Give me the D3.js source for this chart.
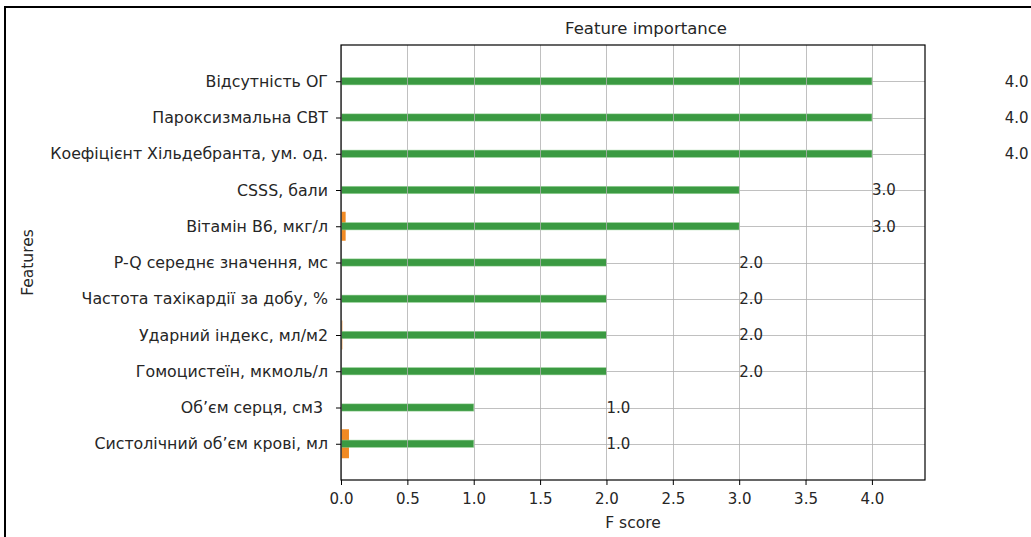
<!DOCTYPE html>
<html>
<head>
<meta charset="utf-8">
<script src="https://cdn.jsdelivr.net/npm/d3@7"></script>
<style>
  html, body { margin: 0; padding: 0; background: #fff; }
  svg { display: block; font-family: "DejaVu Sans", sans-serif; }
  text { white-space: pre; }
</style>
</head>
<body>
<svg id="chart" width="1031" height="537"></svg>
<script>
// Feature names, top to bottom
const features = [
  "Відсутність ОГ",
  "Пароксизмальна СВТ",
  "Коефіцієнт Хільдебранта, ум. од.",
  "CSSS, бали",
  "Вітамін B6, мкг/л",
  "P-Q середнє значення, мс",
  "Частота тахікардії за добу, %",
  "Ударний індекс, мл/м2",
  "Гомоцистеїн, мкмоль/л",
  "Об’єм серця, см3 ",
  "Систолічний об’єм крові, мл"
];
// F score per feature
const fScores = [4, 4, 4, 3, 3, 2, 2, 2, 2, 1, 1];
// Small secondary bars (drawn behind the main ones)
const secondary = [0, 0, 0, 0, 0.035, 0, 0, 0.01, 0, 0, 0.06];
const xTicks = [0, 0.5, 1, 1.5, 2, 2.5, 3, 3.5, 4];

const svg = d3.select("#chart");
const plot = { left: 341, right: 925, top: 45, bottom: 480 };
const textColor = "#262626";

const x = d3.scaleLinear().domain([0, 4.4]).range([plot.left, plot.right]);
// position index 0 = top feature; axis spans one slot of padding on each side
const y = d3.scaleLinear().domain([-1, features.length]).range([plot.top, plot.bottom]);
const unit = y(1) - y(0);

// outer frame
svg.append("rect")
  .attr("x", 5).attr("y", 7).attr("width", 1040).attr("height", 545)
  .attr("fill", "none").attr("stroke", "#000").attr("stroke-width", 2);

// clip for marks inside the axes
svg.append("defs").append("clipPath").attr("id", "plotClip")
  .append("rect")
  .attr("x", plot.left).attr("y", plot.top)
  .attr("width", plot.right - plot.left).attr("height", plot.bottom - plot.top);

const marks = svg.append("g").attr("clip-path", "url(#plotClip)");

// secondary bars
marks.selectAll("rect.sec")
  .data(features.map((f, i) => ({ f, v: secondary[i], i })).filter(d => d.v > 0))
  .join("rect")
  .attr("class", "sec")
  .attr("x", x(0))
  .attr("y", d => y(d.i) - unit * 0.4)
  .attr("width", d => x(d.v) - x(0))
  .attr("height", unit * 0.8)
  .attr("fill", "#f08a24");

// main bars
marks.selectAll("rect.bar")
  .data(features.map((f, i) => ({ f, v: fScores[i], i })))
  .join("rect")
  .attr("class", "bar")
  .attr("x", x(0))
  .attr("y", d => y(d.i) - unit * 0.1)
  .attr("width", d => x(d.v) - x(0))
  .attr("height", unit * 0.2)
  .attr("fill", "#3b9a42")
  .attr("stroke", "#8fd08f")
  .attr("stroke-width", 0.8)
  .attr("stroke-opacity", 0.6);

// grid lines (faint over the bars)
const grid = svg.append("g").attr("stroke", "#b0b0b0").attr("stroke-width", 1);
grid.selectAll("line.v").data(xTicks).join("line")
  .attr("x1", d => Math.round(x(d)) + 0.5).attr("x2", d => Math.round(x(d)) + 0.5)
  .attr("y1", plot.top).attr("y2", plot.bottom)
  .attr("stroke-opacity", 0.8);
grid.selectAll("line.h").data(features.map((f, i) => i)).join("line")
  .attr("y1", d => Math.round(y(d)) + 0.5).attr("y2", d => Math.round(y(d)) + 0.5)
  .attr("x1", d => x(fScores[d])).attr("x2", plot.right)
  .attr("stroke-opacity", 0.8);

// value labels at score + 1
svg.append("g").selectAll("text")
  .data(features.map((f, i) => ({ v: fScores[i], i })))
  .join("text")
  .attr("x", d => x(d.v + 1))
  .attr("y", d => y(d.i))
  .attr("dy", "0.35em")
  .attr("font-size", 15)
  .attr("fill", textColor)
  .text(d => d.v.toFixed(1));

// axes
const xAxis = d3.axisBottom(x).tickValues(xTicks).tickFormat(d3.format(".1f")).tickSize(5).tickPadding(8);
const gx = svg.append("g").attr("transform", `translate(0,${plot.bottom})`).call(xAxis);
gx.select(".domain").remove();
gx.selectAll("text").attr("font-size", 15).attr("font-family", "DejaVu Sans").attr("fill", textColor);

const yAxis = d3.axisLeft(y).tickValues(d3.range(features.length)).tickFormat(i => features[i]).tickSize(5).tickPadding(8);
const gy = svg.append("g").attr("transform", `translate(${plot.left},0)`).call(yAxis);
gy.select(".domain").remove();
gy.selectAll("text").attr("font-size", 15.8).attr("font-family", "DejaVu Sans").attr("fill", textColor);

// axes frame
svg.append("rect")
  .attr("x", plot.left).attr("y", plot.top)
  .attr("width", plot.right - plot.left).attr("height", plot.bottom - plot.top)
  .attr("fill", "none").attr("stroke", "#000").attr("stroke-width", 1.2);

// title and axis titles
svg.append("text")
  .attr("x", (plot.left + plot.right) / 2 + 13).attr("y", 34)
  .attr("text-anchor", "middle").attr("font-size", 16.5).attr("fill", textColor)
  .text("Feature importance");
svg.append("text")
  .attr("x", (plot.left + plot.right) / 2).attr("y", 528)
  .attr("text-anchor", "middle").attr("font-size", 15.5).attr("fill", textColor)
  .text("F score");
svg.append("text")
  .attr("transform", `translate(33,${(plot.top + plot.bottom) / 2}) rotate(-90)`)
  .attr("text-anchor", "middle").attr("font-size", 15.5).attr("fill", textColor)
  .text("Features");
</script>
</body>
</html>
